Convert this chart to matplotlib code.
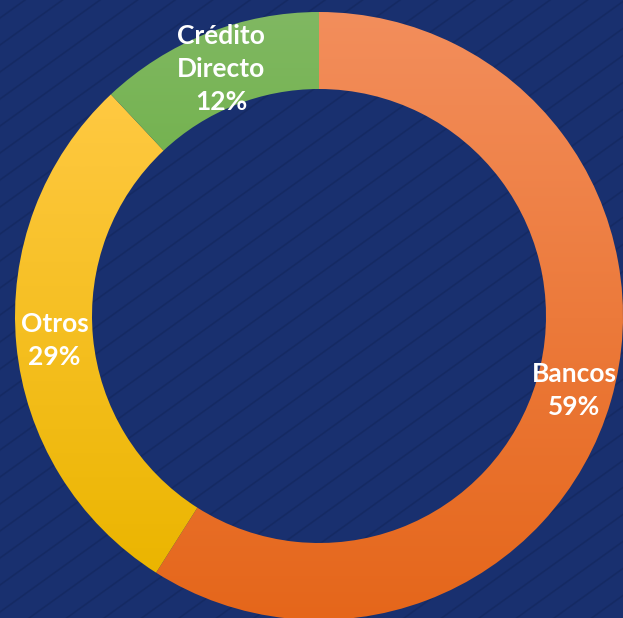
import numpy as np
import matplotlib
matplotlib.use("Agg")
import matplotlib.pyplot as plt
from matplotlib.colors import LinearSegmentedColormap

categories = ["Bancos", "Otros", "Crédito\nDirecto"]
values = [59, 29, 12]
pct_labels = ["59%", "29%", "12%"]
top_colors = ["#F38E5C", "#FFC942", "#80B862"]
bottom_colors = ["#E5661A", "#EBB500", "#68AD3C"]

W, H = 623, 618
fig = plt.figure(figsize=(W / 100, H / 100), dpi=100)
fig.patch.set_facecolor("#19306F")
ax = fig.add_axes([0, 0, 1, 1])

# background with subtle diagonal stripes
ax.add_patch(plt.Rectangle((0, 0), W, H, color="#19306F", zorder=0))
for c in np.arange(-900, 1400, 27):
    xs = np.array([0, W])
    ys = c - 0.72 * xs
    ax.plot(xs, ys, color="#14285F", lw=1.2, alpha=0.7, zorder=1)

cx, cy, R, r_in = 319, 316, 304, 227
wedges, _ = ax.pie(values, startangle=-90, counterclock=True, radius=R,
                   center=(cx, cy), frame=True,
                   wedgeprops=dict(width=R - r_in, linewidth=0, edgecolor="none"))
ax.set_xlim(0, W)
ax.set_ylim(H, 0)
ax.set_aspect("equal")
ax.axis("off")

for i, w in enumerate(wedges):
    w.set_facecolor("none")
    w.set_zorder(2)
    cmap = LinearSegmentedColormap.from_list("g%d" % i, [top_colors[i], bottom_colors[i]])
    grad = np.linspace(0, 1, 256).reshape(-1, 1)
    verts = w.get_path().vertices
    y0, y1 = verts[:, 1].min(), verts[:, 1].max()
    im = ax.imshow(grad, cmap=cmap, extent=(0, W, y1, y0), aspect="auto",
                   zorder=3, interpolation="bilinear")
    im.set_clip_path(w)
    th = np.deg2rad((w.theta1 + w.theta2) / 2)
    rm = (R + r_in) / 2
    tx = cx + rm * np.cos(th)
    ty = cy + rm * np.sin(th)
    ax.text(tx, ty, categories[i] + "\n" + pct_labels[i], ha="center", va="center",
            color="white", fontsize=19, fontweight="bold", family="Lato",
            linespacing=1.45, zorder=5)

ax.set_xlim(0, W)
ax.set_ylim(H, 0)
ax.set_aspect("equal")
fig.savefig("out.png", dpi=100, facecolor=fig.get_facecolor())
